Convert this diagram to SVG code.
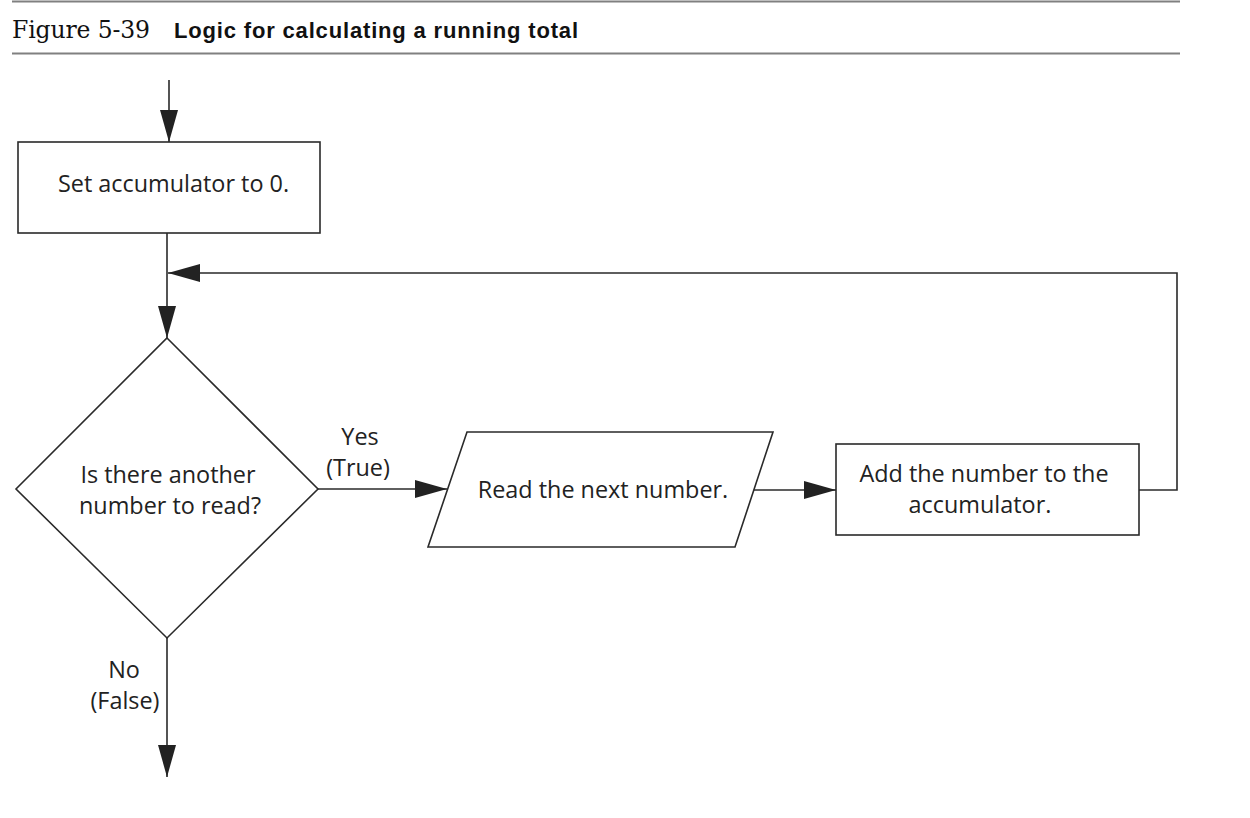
<svg xmlns="http://www.w3.org/2000/svg" width="1250" height="818" viewBox="0 0 1250 818">
<style>
.rule{stroke:#808080;stroke-width:2;fill:none}
.shape{fill:#fff;stroke:#2a2a2a;stroke-width:1.6}
.conn{fill:none;stroke:#2a2a2a;stroke-width:1.6}
.t{font-family:"Open Sans","Liberation Sans",Arial,sans-serif;font-size:23.4px;fill:#222}
.tc{text-anchor:middle}
</style>
<defs>
<marker id="arr" markerUnits="userSpaceOnUse" markerWidth="34" markerHeight="20" refX="32" refY="9" orient="auto">
<path d="M0,0 L32,9 L0,18 Z" fill="#222"/>
</marker>
</defs>
<rect width="1250" height="818" fill="#fff"/>
<g id="title">
<line class="rule" x1="12" y1="1.5" x2="1180" y2="1.5"/>
<line class="rule" x1="12" y1="53.5" x2="1180" y2="53.5"/>
<text x="12" y="38" font-family="DejaVu Serif,serif" font-size="23.5" fill="#111" textLength="138">Figure 5-39</text>
<text x="174" y="38" font-family="Liberation Sans,Arial,sans-serif" font-size="22" font-weight="bold" fill="#111" textLength="404">Logic for calculating a running total</text>
</g>
<g id="connectors">
<line class="conn" x1="169" y1="80" x2="169" y2="142" marker-end="url(#arr)"/>
<line class="conn" x1="167" y1="233" x2="167" y2="338" marker-end="url(#arr)"/>
<polyline class="conn" points="1139,490 1177,490 1177,273 168,273" marker-end="url(#arr)"/>
<line class="conn" x1="318" y1="489" x2="447" y2="489" marker-end="url(#arr)"/>
<line class="conn" x1="753" y1="490" x2="836" y2="490" marker-end="url(#arr)"/>
<line class="conn" x1="167" y1="638" x2="167" y2="777" marker-end="url(#arr)"/>
<text class="t tc" x="360" y="445">Yes</text>
<text class="t tc" x="358" y="476">(True)</text>
<text class="t tc" x="124" y="678">No</text>
<text class="t tc" x="125" y="709">(False)</text>
</g>
<g id="init">
<rect class="shape" x="18" y="142" width="302" height="91"/>
<text class="t" x="58" y="192">Set accumulator to 0.</text>
</g>
<g id="decision">
<polygon class="shape" points="167,338 318,489 167,638 16,489"/>
<text class="t tc" x="168" y="483">Is there another</text>
<text class="t tc" x="170" y="514">number to read?</text>
</g>
<g id="read">
<polygon class="shape" points="467,432 773,432 735,547 428,547"/>
<text class="t tc" x="603" y="498">Read the next number.</text>
</g>
<g id="add">
<rect class="shape" x="836" y="444" width="303" height="91"/>
<text class="t tc" x="984" y="482">Add the number to the</text>
<text class="t tc" x="980" y="513">accumulator.</text>
</g>
</svg>
